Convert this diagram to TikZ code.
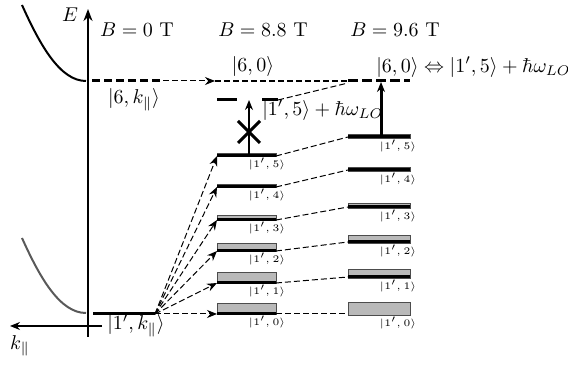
\documentclass[tikz,border=0pt]{standalone}
\usetikzlibrary{arrows.meta}
\begin{document}
\begin{tikzpicture}[x=0.5pt,y=-0.5pt,
  lvl/.style={line width=1.5pt},
  band/.style={fill=gray!55, draw=gray!60!black, line width=0.3pt},
  conn/.style={line width=0.5pt, dash pattern=on 3pt off 1.5pt},
  tip/.style={-{Stealth[length=5pt,width=4pt]}},
  small/.style={font=\tiny, inner sep=0.5pt},
  lab/.style={inner sep=1pt}]
\useasboundingbox (0,0) rectangle (568,367);
% axes
\coordinate (ax0) at (88,337); \coordinate (ax1) at (88,9);
\draw[line width=1pt, -{Stealth[length=6pt,width=4.5pt]}] (ax0) -- (ax1);
\node[lab] (E) at (70,15) {$E$};
\coordinate (k0) at (102,326); \coordinate (k1) at (10,326);
\draw[line width=0.6pt, tip] (k0) -- (k1);
\node[lab] (kl) at (20,346) {$k_\parallel$};
% dispersion curves
\coordinate (u0) at (22,5); \coordinate (u1) at (86,81);
\draw[line width=1pt] (u0) .. controls (40,45) and (60,81) .. (u1);
\coordinate (l0) at (22,238); \coordinate (l1) at (86,313);
\draw[line width=1pt, black!65] (l0) .. controls (40,278) and (60,313) .. (l1);
% upper level |6,k>
\coordinate (s6a) at (92,81); \coordinate (s6b) at (163,81); \coordinate (s6c) at (215,81);
\draw[line width=1.5pt, dash pattern=on 4pt off 2pt] (s6a) -- (s6b);
\draw[conn, tip] (s6b) -- (s6c);
\coordinate (s6d) at (348,81); \coordinate (s6e) at (410,81);
\draw[line width=1pt, dash pattern=on 3pt off 1.5pt] (s6c) -- (s6d);
\draw[line width=1.5pt, dash pattern=on 5pt off 2pt] (s6d) -- (s6e);
\node[lab] (k6) at (134,100) {$|6,k_\parallel\rangle$};
\node[lab] (l60) at (253,67) {$|6,0\rangle$};
\node[lab, anchor=west] (res) at (374,67) {$|6,0\rangle \Leftrightarrow |1',5\rangle + \hbar\omega_{LO}$};
% lower level |1',k>
\coordinate (src0) at (93,314); \coordinate (src) at (155,314);
\draw[lvl] (src0) -- (src);
\node[lab] (k1l) at (136,326) {$|1',k_\parallel\rangle$};
% Landau levels
\foreach \i/\ya/\ta/\yb/\tb in {0/314/303/315/302, 1/283/272/278/269, 2/251/243/243/235, 3/220/215/208/203, 4/187/184/171/167, 5/156/153/138/134}{
  \coordinate (a\i) at (217,\ya); \coordinate (b\i) at (276,\ya);
  \draw[band] (217,\ta) rectangle (276,\ya);
  \draw[lvl] (a\i) -- (b\i);
  \node[small] (la\i) at (267,{\ya+8}) {$|1',\i\rangle$};
  \coordinate (c\i) at (348,{\yb-1}); \coordinate (d\i) at (410,{\yb-1});
  \draw[band] (348,\tb) rectangle (410,\yb);
  \ifnum\i>0 \draw[lvl] (c\i) -- (d\i); \fi
  \node[small] (lb\i) at (398,{\yb+8}) {$|1',\i\rangle$};
  \draw[conn, tip] (src) -- (a\i);
  \draw[conn] (b\i) -- (c\i);
}
% forbidden transition at 8.8 T
\coordinate (p5) at (249,156); \coordinate (p5t) at (249,100);
\draw[line width=0.8pt, tip] (p5) -- (p5t);
\draw[line width=1.5pt] (238,121) -- (260,143) (238,143) -- (260,121);
\coordinate (v0) at (217,100); \coordinate (v1) at (237,100);
\coordinate (v2) at (262,100); \coordinate (v3) at (278,100);
\draw[lvl] (v0) -- (v1) (v2) -- (v3);
\coordinate (r6) at (348,83);
\draw[conn] (v3) -- (r6);
\node[lab, anchor=west] (vl) at (260,110) {$|1',5\rangle + \hbar\omega_{LO}$};
% resonant transition at 9.6 T
\coordinate (q5) at (381,137); \coordinate (q5t) at (381,82);
\draw[line width=1.5pt, tip] (q5) -- (q5t);
% field labels
\node[lab] (B0) at (137,30) {$B = 0\ \mathrm{T}$};
\node[lab] (B1) at (263,30) {$B = 8.8\ \mathrm{T}$};
\node[lab] (B2) at (395,30) {$B = 9.6\ \mathrm{T}$};
\end{tikzpicture}
\end{document}
